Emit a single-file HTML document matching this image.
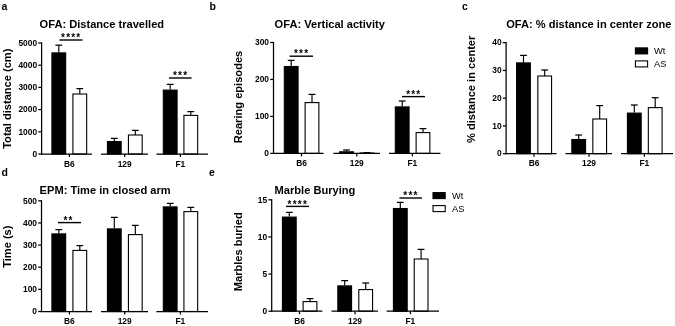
<!DOCTYPE html>
<html><head><meta charset="utf-8"><title>Figure</title>
<style>
html,body{margin:0;padding:0;background:#fff;}
body{width:675px;height:326px;overflow:hidden;}
svg{display:block;font-family:"Liberation Sans",Arial,sans-serif;fill:#000;}
</style></head><body>
<svg width="675" height="326" viewBox="0 0 675 326">
<rect x="0" y="0" width="675" height="326" fill="#fff" stroke="none"/>
<line x1="58.80" y1="45.20" x2="58.80" y2="52.40" stroke="#000" stroke-width="1.15"/>
<line x1="55.40" y1="45.20" x2="62.20" y2="45.20" stroke="#000" stroke-width="1.25"/>
<rect x="51.92" y="52.90" width="13.75" height="101.10" fill="#000" stroke="#000" stroke-width="1.1"/>
<line x1="79.80" y1="88.60" x2="79.80" y2="94.00" stroke="#000" stroke-width="1.15"/>
<line x1="76.40" y1="88.60" x2="83.20" y2="88.60" stroke="#000" stroke-width="1.25"/>
<rect x="72.92" y="94.00" width="13.75" height="60.00" fill="#fff" stroke="#000" stroke-width="1.1"/>
<line x1="114.30" y1="138.40" x2="114.30" y2="141.00" stroke="#000" stroke-width="1.15"/>
<line x1="110.90" y1="138.40" x2="117.70" y2="138.40" stroke="#000" stroke-width="1.25"/>
<rect x="107.42" y="141.50" width="13.75" height="12.50" fill="#000" stroke="#000" stroke-width="1.1"/>
<line x1="135.30" y1="130.40" x2="135.30" y2="135.00" stroke="#000" stroke-width="1.15"/>
<line x1="131.90" y1="130.40" x2="138.70" y2="130.40" stroke="#000" stroke-width="1.25"/>
<rect x="128.43" y="135.00" width="13.75" height="19.00" fill="#fff" stroke="#000" stroke-width="1.1"/>
<line x1="170.20" y1="84.40" x2="170.20" y2="89.60" stroke="#000" stroke-width="1.15"/>
<line x1="166.80" y1="84.40" x2="173.60" y2="84.40" stroke="#000" stroke-width="1.25"/>
<rect x="163.32" y="90.10" width="13.75" height="63.90" fill="#000" stroke="#000" stroke-width="1.1"/>
<line x1="190.80" y1="111.60" x2="190.80" y2="115.40" stroke="#000" stroke-width="1.15"/>
<line x1="187.40" y1="111.60" x2="194.20" y2="111.60" stroke="#000" stroke-width="1.25"/>
<rect x="183.93" y="115.40" width="13.75" height="38.60" fill="#fff" stroke="#000" stroke-width="1.1"/>
<line x1="41.60" y1="42.38" x2="41.60" y2="154.62" stroke="#000" stroke-width="1.25"/>
<line x1="38.30" y1="154.00" x2="41.60" y2="154.00" stroke="#000" stroke-width="1.25"/>
<text x="37.10" y="156.70" font-size="8.4" font-weight="bold" text-anchor="end">0</text>
<line x1="38.30" y1="131.80" x2="41.60" y2="131.80" stroke="#000" stroke-width="1.25"/>
<text x="37.10" y="134.50" font-size="8.4" font-weight="bold" text-anchor="end">1000</text>
<line x1="38.30" y1="109.60" x2="41.60" y2="109.60" stroke="#000" stroke-width="1.25"/>
<text x="37.10" y="112.30" font-size="8.4" font-weight="bold" text-anchor="end">2000</text>
<line x1="38.30" y1="87.40" x2="41.60" y2="87.40" stroke="#000" stroke-width="1.25"/>
<text x="37.10" y="90.10" font-size="8.4" font-weight="bold" text-anchor="end">3000</text>
<line x1="38.30" y1="65.20" x2="41.60" y2="65.20" stroke="#000" stroke-width="1.25"/>
<text x="37.10" y="67.90" font-size="8.4" font-weight="bold" text-anchor="end">4000</text>
<line x1="38.30" y1="43.00" x2="41.60" y2="43.00" stroke="#000" stroke-width="1.25"/>
<text x="37.10" y="45.70" font-size="8.4" font-weight="bold" text-anchor="end">5000</text>
<line x1="41.00" y1="154.00" x2="92.00" y2="154.00" stroke="#000" stroke-width="1.25"/>
<line x1="101.00" y1="154.00" x2="148.00" y2="154.00" stroke="#000" stroke-width="1.25"/>
<line x1="156.40" y1="154.00" x2="208.00" y2="154.00" stroke="#000" stroke-width="1.25"/>
<line x1="69.40" y1="154.00" x2="69.40" y2="157.00" stroke="#000" stroke-width="1.25"/>
<text x="69.40" y="166.50" font-size="8.4" font-weight="bold" text-anchor="middle">B6</text>
<line x1="124.70" y1="154.00" x2="124.70" y2="157.00" stroke="#000" stroke-width="1.25"/>
<text x="124.70" y="166.50" font-size="8.4" font-weight="bold" text-anchor="middle">129</text>
<line x1="180.40" y1="154.00" x2="180.40" y2="157.00" stroke="#000" stroke-width="1.25"/>
<text x="180.40" y="166.50" font-size="8.4" font-weight="bold" text-anchor="middle">F1</text>
<line x1="59.40" y1="40.00" x2="82.50" y2="40.00" stroke="#000" stroke-width="1.4"/>
<text x="71.25" y="41.20" font-size="10" font-weight="bold" text-anchor="middle" letter-spacing="1.2">****</text>
<line x1="169.00" y1="78.00" x2="191.60" y2="78.00" stroke="#000" stroke-width="1.4"/>
<text x="180.60" y="79.20" font-size="10" font-weight="bold" text-anchor="middle" letter-spacing="1.2">***</text>
<text x="39.60" y="27.60" font-size="11.1" font-weight="bold" text-anchor="start">OFA: Distance travelled</text>
<text x="1.60" y="9.60" font-size="10.5" font-weight="bold" text-anchor="start">a</text>
<text transform="translate(10.80,98.70) rotate(-90)" font-size="11.1" font-weight="bold" text-anchor="middle">Total distance (cm)</text>
<line x1="291.20" y1="60.40" x2="291.20" y2="66.00" stroke="#000" stroke-width="1.15"/>
<line x1="287.80" y1="60.40" x2="294.60" y2="60.40" stroke="#000" stroke-width="1.25"/>
<rect x="284.32" y="66.50" width="13.75" height="86.90" fill="#000" stroke="#000" stroke-width="1.1"/>
<line x1="312.00" y1="94.40" x2="312.00" y2="102.60" stroke="#000" stroke-width="1.15"/>
<line x1="308.60" y1="94.40" x2="315.40" y2="94.40" stroke="#000" stroke-width="1.25"/>
<rect x="305.12" y="102.60" width="13.75" height="50.80" fill="#fff" stroke="#000" stroke-width="1.1"/>
<line x1="346.50" y1="150.00" x2="346.50" y2="151.30" stroke="#000" stroke-width="1.15"/>
<line x1="343.10" y1="150.00" x2="349.90" y2="150.00" stroke="#000" stroke-width="1.25"/>
<rect x="339.62" y="151.80" width="13.75" height="1.60" fill="#000" stroke="#000" stroke-width="1.1"/>
<line x1="367.00" y1="152.60" x2="367.00" y2="153.00" stroke="#000" stroke-width="1.15"/>
<line x1="363.60" y1="152.60" x2="370.40" y2="152.60" stroke="#000" stroke-width="1.25"/>
<rect x="360.12" y="153.00" width="13.75" height="0.40" fill="#fff" stroke="#000" stroke-width="1.1"/>
<line x1="402.20" y1="101.00" x2="402.20" y2="106.40" stroke="#000" stroke-width="1.15"/>
<line x1="398.80" y1="101.00" x2="405.60" y2="101.00" stroke="#000" stroke-width="1.25"/>
<rect x="395.32" y="106.90" width="13.75" height="46.50" fill="#000" stroke="#000" stroke-width="1.1"/>
<line x1="423.00" y1="128.60" x2="423.00" y2="132.60" stroke="#000" stroke-width="1.15"/>
<line x1="419.60" y1="128.60" x2="426.40" y2="128.60" stroke="#000" stroke-width="1.25"/>
<rect x="416.12" y="132.60" width="13.75" height="20.80" fill="#fff" stroke="#000" stroke-width="1.1"/>
<line x1="273.50" y1="41.88" x2="273.50" y2="154.03" stroke="#000" stroke-width="1.25"/>
<line x1="270.20" y1="153.40" x2="273.50" y2="153.40" stroke="#000" stroke-width="1.25"/>
<text x="269.00" y="156.10" font-size="8.4" font-weight="bold" text-anchor="end">0</text>
<line x1="270.20" y1="116.43" x2="273.50" y2="116.43" stroke="#000" stroke-width="1.25"/>
<text x="269.00" y="119.13" font-size="8.4" font-weight="bold" text-anchor="end">100</text>
<line x1="270.20" y1="79.47" x2="273.50" y2="79.47" stroke="#000" stroke-width="1.25"/>
<text x="269.00" y="82.17" font-size="8.4" font-weight="bold" text-anchor="end">200</text>
<line x1="270.20" y1="42.50" x2="273.50" y2="42.50" stroke="#000" stroke-width="1.25"/>
<text x="269.00" y="45.20" font-size="8.4" font-weight="bold" text-anchor="end">300</text>
<line x1="273.00" y1="153.40" x2="323.60" y2="153.40" stroke="#000" stroke-width="1.25"/>
<line x1="333.40" y1="153.40" x2="380.00" y2="153.40" stroke="#000" stroke-width="1.25"/>
<line x1="389.00" y1="153.40" x2="440.40" y2="153.40" stroke="#000" stroke-width="1.25"/>
<line x1="301.50" y1="153.40" x2="301.50" y2="156.40" stroke="#000" stroke-width="1.25"/>
<text x="301.50" y="165.90" font-size="8.4" font-weight="bold" text-anchor="middle">B6</text>
<line x1="356.80" y1="153.40" x2="356.80" y2="156.40" stroke="#000" stroke-width="1.25"/>
<text x="356.80" y="165.90" font-size="8.4" font-weight="bold" text-anchor="middle">129</text>
<line x1="412.40" y1="153.40" x2="412.40" y2="156.40" stroke="#000" stroke-width="1.25"/>
<text x="412.40" y="165.90" font-size="8.4" font-weight="bold" text-anchor="middle">F1</text>
<line x1="289.60" y1="56.20" x2="313.00" y2="56.20" stroke="#000" stroke-width="1.4"/>
<text x="301.60" y="57.40" font-size="10" font-weight="bold" text-anchor="middle" letter-spacing="1.2">***</text>
<line x1="402.00" y1="96.60" x2="425.00" y2="96.60" stroke="#000" stroke-width="1.4"/>
<text x="413.80" y="97.80" font-size="10" font-weight="bold" text-anchor="middle" letter-spacing="1.2">***</text>
<text x="274.60" y="27.60" font-size="11.1" font-weight="bold" text-anchor="start">OFA: Vertical activity</text>
<text x="209.60" y="9.60" font-size="10.5" font-weight="bold" text-anchor="start">b</text>
<text transform="translate(242.00,97.00) rotate(-90)" font-size="11.1" font-weight="bold" text-anchor="middle">Rearing episodes</text>
<line x1="523.50" y1="55.40" x2="523.50" y2="62.40" stroke="#000" stroke-width="1.15"/>
<line x1="520.10" y1="55.40" x2="526.90" y2="55.40" stroke="#000" stroke-width="1.25"/>
<rect x="516.62" y="62.90" width="13.75" height="90.80" fill="#000" stroke="#000" stroke-width="1.1"/>
<line x1="544.70" y1="70.00" x2="544.70" y2="76.00" stroke="#000" stroke-width="1.15"/>
<line x1="541.30" y1="70.00" x2="548.10" y2="70.00" stroke="#000" stroke-width="1.25"/>
<rect x="537.83" y="76.00" width="13.75" height="77.70" fill="#fff" stroke="#000" stroke-width="1.1"/>
<line x1="578.70" y1="135.00" x2="578.70" y2="139.00" stroke="#000" stroke-width="1.15"/>
<line x1="575.30" y1="135.00" x2="582.10" y2="135.00" stroke="#000" stroke-width="1.25"/>
<rect x="571.83" y="139.50" width="13.75" height="14.20" fill="#000" stroke="#000" stroke-width="1.1"/>
<line x1="599.70" y1="105.60" x2="599.70" y2="119.00" stroke="#000" stroke-width="1.15"/>
<line x1="596.30" y1="105.60" x2="603.10" y2="105.60" stroke="#000" stroke-width="1.25"/>
<rect x="592.83" y="119.00" width="13.75" height="34.70" fill="#fff" stroke="#000" stroke-width="1.1"/>
<line x1="634.30" y1="105.00" x2="634.30" y2="112.60" stroke="#000" stroke-width="1.15"/>
<line x1="630.90" y1="105.00" x2="637.70" y2="105.00" stroke="#000" stroke-width="1.25"/>
<rect x="627.42" y="113.10" width="13.75" height="40.60" fill="#000" stroke="#000" stroke-width="1.1"/>
<line x1="655.20" y1="97.70" x2="655.20" y2="107.60" stroke="#000" stroke-width="1.15"/>
<line x1="651.80" y1="97.70" x2="658.60" y2="97.70" stroke="#000" stroke-width="1.25"/>
<rect x="648.33" y="107.60" width="13.75" height="46.10" fill="#fff" stroke="#000" stroke-width="1.1"/>
<line x1="506.10" y1="42.08" x2="506.10" y2="154.32" stroke="#000" stroke-width="1.25"/>
<line x1="502.80" y1="153.70" x2="506.10" y2="153.70" stroke="#000" stroke-width="1.25"/>
<text x="501.60" y="156.40" font-size="8.4" font-weight="bold" text-anchor="end">0</text>
<line x1="502.80" y1="125.95" x2="506.10" y2="125.95" stroke="#000" stroke-width="1.25"/>
<text x="501.60" y="128.65" font-size="8.4" font-weight="bold" text-anchor="end">10</text>
<line x1="502.80" y1="98.20" x2="506.10" y2="98.20" stroke="#000" stroke-width="1.25"/>
<text x="501.60" y="100.90" font-size="8.4" font-weight="bold" text-anchor="end">20</text>
<line x1="502.80" y1="70.45" x2="506.10" y2="70.45" stroke="#000" stroke-width="1.25"/>
<text x="501.60" y="73.15" font-size="8.4" font-weight="bold" text-anchor="end">30</text>
<line x1="502.80" y1="42.70" x2="506.10" y2="42.70" stroke="#000" stroke-width="1.25"/>
<text x="501.60" y="45.40" font-size="8.4" font-weight="bold" text-anchor="end">40</text>
<line x1="505.60" y1="153.70" x2="556.60" y2="153.70" stroke="#000" stroke-width="1.25"/>
<line x1="565.50" y1="153.70" x2="612.00" y2="153.70" stroke="#000" stroke-width="1.25"/>
<line x1="621.00" y1="153.70" x2="673.00" y2="153.70" stroke="#000" stroke-width="1.25"/>
<line x1="534.00" y1="153.70" x2="534.00" y2="156.70" stroke="#000" stroke-width="1.25"/>
<text x="534.00" y="166.20" font-size="8.4" font-weight="bold" text-anchor="middle">B6</text>
<line x1="589.00" y1="153.70" x2="589.00" y2="156.70" stroke="#000" stroke-width="1.25"/>
<text x="589.00" y="166.20" font-size="8.4" font-weight="bold" text-anchor="middle">129</text>
<line x1="644.40" y1="153.70" x2="644.40" y2="156.70" stroke="#000" stroke-width="1.25"/>
<text x="644.40" y="166.20" font-size="8.4" font-weight="bold" text-anchor="middle">F1</text>
<text x="506.20" y="27.60" font-size="11.1" font-weight="bold" text-anchor="start">OFA: % distance in center zone</text>
<text x="462.00" y="9.60" font-size="10.5" font-weight="bold" text-anchor="start">c</text>
<text transform="translate(475.20,89.30) rotate(-90)" font-size="11.1" font-weight="bold" text-anchor="middle">% distance in center</text>
<line x1="58.80" y1="229.60" x2="58.80" y2="233.40" stroke="#000" stroke-width="1.15"/>
<line x1="55.40" y1="229.60" x2="62.20" y2="229.60" stroke="#000" stroke-width="1.25"/>
<rect x="51.92" y="233.90" width="13.75" height="77.60" fill="#000" stroke="#000" stroke-width="1.1"/>
<line x1="79.80" y1="245.60" x2="79.80" y2="250.40" stroke="#000" stroke-width="1.15"/>
<line x1="76.40" y1="245.60" x2="83.20" y2="245.60" stroke="#000" stroke-width="1.25"/>
<rect x="72.92" y="250.40" width="13.75" height="61.10" fill="#fff" stroke="#000" stroke-width="1.1"/>
<line x1="114.30" y1="217.40" x2="114.30" y2="228.40" stroke="#000" stroke-width="1.15"/>
<line x1="110.90" y1="217.40" x2="117.70" y2="217.40" stroke="#000" stroke-width="1.25"/>
<rect x="107.42" y="228.90" width="13.75" height="82.60" fill="#000" stroke="#000" stroke-width="1.1"/>
<line x1="135.30" y1="225.40" x2="135.30" y2="234.60" stroke="#000" stroke-width="1.15"/>
<line x1="131.90" y1="225.40" x2="138.70" y2="225.40" stroke="#000" stroke-width="1.25"/>
<rect x="128.43" y="234.60" width="13.75" height="76.90" fill="#fff" stroke="#000" stroke-width="1.1"/>
<line x1="170.20" y1="203.40" x2="170.20" y2="206.40" stroke="#000" stroke-width="1.15"/>
<line x1="166.80" y1="203.40" x2="173.60" y2="203.40" stroke="#000" stroke-width="1.25"/>
<rect x="163.32" y="206.90" width="13.75" height="104.60" fill="#000" stroke="#000" stroke-width="1.1"/>
<line x1="190.80" y1="207.40" x2="190.80" y2="211.60" stroke="#000" stroke-width="1.15"/>
<line x1="187.40" y1="207.40" x2="194.20" y2="207.40" stroke="#000" stroke-width="1.25"/>
<rect x="183.93" y="211.60" width="13.75" height="99.90" fill="#fff" stroke="#000" stroke-width="1.1"/>
<line x1="41.50" y1="200.18" x2="41.50" y2="312.12" stroke="#000" stroke-width="1.25"/>
<line x1="38.20" y1="311.50" x2="41.50" y2="311.50" stroke="#000" stroke-width="1.25"/>
<text x="37.00" y="314.20" font-size="8.4" font-weight="bold" text-anchor="end">0</text>
<line x1="38.20" y1="289.36" x2="41.50" y2="289.36" stroke="#000" stroke-width="1.25"/>
<text x="37.00" y="292.06" font-size="8.4" font-weight="bold" text-anchor="end">100</text>
<line x1="38.20" y1="267.22" x2="41.50" y2="267.22" stroke="#000" stroke-width="1.25"/>
<text x="37.00" y="269.92" font-size="8.4" font-weight="bold" text-anchor="end">200</text>
<line x1="38.20" y1="245.08" x2="41.50" y2="245.08" stroke="#000" stroke-width="1.25"/>
<text x="37.00" y="247.78" font-size="8.4" font-weight="bold" text-anchor="end">300</text>
<line x1="38.20" y1="222.94" x2="41.50" y2="222.94" stroke="#000" stroke-width="1.25"/>
<text x="37.00" y="225.64" font-size="8.4" font-weight="bold" text-anchor="end">400</text>
<line x1="38.20" y1="200.80" x2="41.50" y2="200.80" stroke="#000" stroke-width="1.25"/>
<text x="37.00" y="203.50" font-size="8.4" font-weight="bold" text-anchor="end">500</text>
<line x1="41.00" y1="311.50" x2="92.00" y2="311.50" stroke="#000" stroke-width="1.25"/>
<line x1="101.00" y1="311.50" x2="148.00" y2="311.50" stroke="#000" stroke-width="1.25"/>
<line x1="156.40" y1="311.50" x2="208.00" y2="311.50" stroke="#000" stroke-width="1.25"/>
<line x1="69.40" y1="311.50" x2="69.40" y2="314.50" stroke="#000" stroke-width="1.25"/>
<text x="69.40" y="324.00" font-size="8.4" font-weight="bold" text-anchor="middle">B6</text>
<line x1="124.70" y1="311.50" x2="124.70" y2="314.50" stroke="#000" stroke-width="1.25"/>
<text x="124.70" y="324.00" font-size="8.4" font-weight="bold" text-anchor="middle">129</text>
<line x1="180.40" y1="311.50" x2="180.40" y2="314.50" stroke="#000" stroke-width="1.25"/>
<text x="180.40" y="324.00" font-size="8.4" font-weight="bold" text-anchor="middle">F1</text>
<line x1="58.00" y1="222.60" x2="81.00" y2="222.60" stroke="#000" stroke-width="1.4"/>
<text x="68.50" y="223.80" font-size="10" font-weight="bold" text-anchor="middle" letter-spacing="1.2">**</text>
<text x="39.60" y="193.50" font-size="11.1" font-weight="bold" text-anchor="start">EPM: Time in closed arm</text>
<text x="1.60" y="176.00" font-size="10.5" font-weight="bold" text-anchor="start">d</text>
<text transform="translate(10.80,246.70) rotate(-90)" font-size="11.1" font-weight="bold" text-anchor="middle">Time (s)</text>
<line x1="289.30" y1="212.40" x2="289.30" y2="216.60" stroke="#000" stroke-width="1.15"/>
<line x1="285.90" y1="212.40" x2="292.70" y2="212.40" stroke="#000" stroke-width="1.25"/>
<rect x="282.43" y="217.10" width="13.75" height="94.10" fill="#000" stroke="#000" stroke-width="1.1"/>
<line x1="310.00" y1="298.60" x2="310.00" y2="301.60" stroke="#000" stroke-width="1.15"/>
<line x1="306.60" y1="298.60" x2="313.40" y2="298.60" stroke="#000" stroke-width="1.25"/>
<rect x="303.12" y="301.60" width="13.75" height="9.60" fill="#fff" stroke="#000" stroke-width="1.1"/>
<line x1="344.70" y1="280.60" x2="344.70" y2="285.40" stroke="#000" stroke-width="1.15"/>
<line x1="341.30" y1="280.60" x2="348.10" y2="280.60" stroke="#000" stroke-width="1.25"/>
<rect x="337.82" y="285.90" width="13.75" height="25.30" fill="#000" stroke="#000" stroke-width="1.1"/>
<line x1="365.70" y1="283.00" x2="365.70" y2="289.60" stroke="#000" stroke-width="1.15"/>
<line x1="362.30" y1="283.00" x2="369.10" y2="283.00" stroke="#000" stroke-width="1.25"/>
<rect x="358.82" y="289.60" width="13.75" height="21.60" fill="#fff" stroke="#000" stroke-width="1.1"/>
<line x1="400.30" y1="202.40" x2="400.30" y2="208.00" stroke="#000" stroke-width="1.15"/>
<line x1="396.90" y1="202.40" x2="403.70" y2="202.40" stroke="#000" stroke-width="1.25"/>
<rect x="393.43" y="208.50" width="13.75" height="102.70" fill="#000" stroke="#000" stroke-width="1.1"/>
<line x1="421.10" y1="249.40" x2="421.10" y2="259.00" stroke="#000" stroke-width="1.15"/>
<line x1="417.70" y1="249.40" x2="424.50" y2="249.40" stroke="#000" stroke-width="1.25"/>
<rect x="414.23" y="259.00" width="13.75" height="52.20" fill="#fff" stroke="#000" stroke-width="1.1"/>
<line x1="271.70" y1="199.18" x2="271.70" y2="311.82" stroke="#000" stroke-width="1.25"/>
<line x1="268.40" y1="311.20" x2="271.70" y2="311.20" stroke="#000" stroke-width="1.25"/>
<text x="267.20" y="313.90" font-size="8.4" font-weight="bold" text-anchor="end">0</text>
<line x1="268.40" y1="274.07" x2="271.70" y2="274.07" stroke="#000" stroke-width="1.25"/>
<text x="267.20" y="276.77" font-size="8.4" font-weight="bold" text-anchor="end">5</text>
<line x1="268.40" y1="236.93" x2="271.70" y2="236.93" stroke="#000" stroke-width="1.25"/>
<text x="267.20" y="239.63" font-size="8.4" font-weight="bold" text-anchor="end">10</text>
<line x1="268.40" y1="199.80" x2="271.70" y2="199.80" stroke="#000" stroke-width="1.25"/>
<text x="267.20" y="202.50" font-size="8.4" font-weight="bold" text-anchor="end">15</text>
<line x1="271.40" y1="311.20" x2="322.40" y2="311.20" stroke="#000" stroke-width="1.25"/>
<line x1="331.50" y1="311.20" x2="378.00" y2="311.20" stroke="#000" stroke-width="1.25"/>
<line x1="386.60" y1="311.20" x2="439.00" y2="311.20" stroke="#000" stroke-width="1.25"/>
<line x1="299.50" y1="311.20" x2="299.50" y2="314.20" stroke="#000" stroke-width="1.25"/>
<text x="299.50" y="323.70" font-size="8.4" font-weight="bold" text-anchor="middle">B6</text>
<line x1="355.00" y1="311.20" x2="355.00" y2="314.20" stroke="#000" stroke-width="1.25"/>
<text x="355.00" y="323.70" font-size="8.4" font-weight="bold" text-anchor="middle">129</text>
<line x1="410.40" y1="311.20" x2="410.40" y2="314.20" stroke="#000" stroke-width="1.25"/>
<text x="410.40" y="323.70" font-size="8.4" font-weight="bold" text-anchor="middle">F1</text>
<line x1="286.00" y1="206.40" x2="309.00" y2="206.40" stroke="#000" stroke-width="1.4"/>
<text x="297.80" y="207.60" font-size="10" font-weight="bold" text-anchor="middle" letter-spacing="1.2">****</text>
<line x1="399.40" y1="198.00" x2="422.00" y2="198.00" stroke="#000" stroke-width="1.4"/>
<text x="411.00" y="199.20" font-size="10" font-weight="bold" text-anchor="middle" letter-spacing="1.2">***</text>
<text x="274.60" y="193.50" font-size="11.1" font-weight="bold" text-anchor="start">Marble Burying</text>
<text x="209.00" y="176.00" font-size="10.5" font-weight="bold" text-anchor="start">e</text>
<text transform="translate(242.40,251.80) rotate(-90)" font-size="11.1" font-weight="bold" text-anchor="middle">Marbles buried</text>
<rect x="635.40" y="47.90" width="12.20" height="6.00" fill="#000" stroke="#000" stroke-width="1.1"/>
<rect x="635.40" y="60.90" width="12.20" height="6.00" fill="#fff" stroke="#000" stroke-width="1.1"/>
<text x="654.00" y="54.40" font-size="9.3" font-weight="normal" text-anchor="start">Wt</text>
<text x="654.00" y="67.40" font-size="9.3" font-weight="normal" text-anchor="start">AS</text>
<rect x="433.00" y="192.60" width="12.20" height="6.00" fill="#000" stroke="#000" stroke-width="1.1"/>
<rect x="433.00" y="205.60" width="12.20" height="6.00" fill="#fff" stroke="#000" stroke-width="1.1"/>
<text x="452.00" y="199.10" font-size="9.3" font-weight="normal" text-anchor="start">Wt</text>
<text x="452.00" y="212.10" font-size="9.3" font-weight="normal" text-anchor="start">AS</text>
</svg>
</body></html>
